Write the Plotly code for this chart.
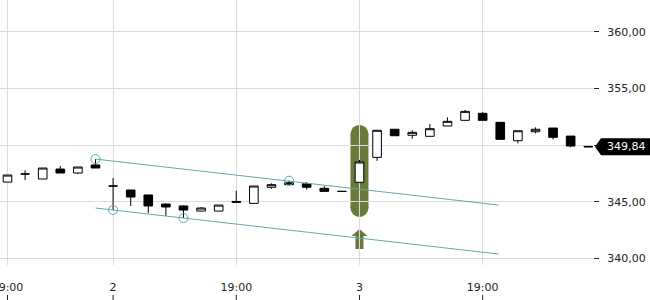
import plotly.graph_objects as go

# ---- data ----
idx = list(range(34))
opens = [346.73, 347.44, 347.00, 347.88, 347.53, 348.24, 346.38, 346.03, 345.59, 344.79,
         344.62, 344.17, 344.17, 345.02, 344.85, 346.27, 346.67, 346.58, 346.18, 345.92,
         346.71, 348.91, 351.39, 350.86, 350.77, 351.68, 352.18, 352.80, 352.00, 350.38,
         351.17, 351.50, 350.79, 349.88]
highs = [347.35, 347.77, 347.97, 348.15, 348.06, 348.76, 347.09, 346.03, 345.59, 344.85,
         344.68, 344.53, 344.70, 345.97, 346.38, 346.62, 346.85, 346.73, 346.38, 345.92,
         348.68, 351.30, 351.39, 351.30, 351.85, 352.44, 353.09, 352.91, 352.00, 351.26,
         351.56, 351.50, 350.79, 349.88]
lows = [346.73, 346.90, 347.00, 347.53, 347.44, 347.97, 344.26, 344.62, 344.00, 343.73,
        343.56, 344.17, 344.17, 344.95, 344.85, 346.14, 346.50, 346.06, 345.91, 345.90,
        346.71, 348.60, 350.82, 350.56, 350.77, 351.68, 352.18, 352.18, 350.50, 350.15,
        351.03, 350.50, 349.80, 349.84]
closes = [347.35, 347.44, 347.97, 347.53, 348.06, 347.97, 346.38, 345.41, 344.62, 344.53,
          344.26, 344.44, 344.70, 344.95, 346.38, 346.50, 346.50, 346.27, 345.91, 345.90,
          348.50, 351.30, 350.82, 351.12, 351.44, 352.09, 352.97, 352.18, 350.50, 351.26,
          351.39, 350.68, 349.91, 349.84]
last_price = 349.84

tick_vals = [0, 6, 13, 20, 27]
tick_text = ["19:00", "2", "19:00", "3", "19:00"]
y_ticks = [340, 345, 350, 355, 360]

channel_x = [5, 27.9]
channel_upper = [348.76, 344.70]
channel_lower = [344.44, 340.38]

pivot_x = [5, 6, 10, 16]
pivot_y = [348.76, 344.26, 343.56, 346.85]

signal_idx = 20
signal_top = 350.98
signal_bottom = 344.44

TEAL = "#62a8ac"
OLIVE = "#6a7a3a"
GRID = "#dcdcdc"
TXT = "#222222"
FONT = "DejaVu Sans"

fig = go.Figure()

fig.add_trace(go.Candlestick(
    x=idx, open=opens, high=highs, low=lows, close=closes,
    increasing=dict(line=dict(color="black", width=1), fillcolor="white"),
    decreasing=dict(line=dict(color="black", width=1), fillcolor="black"),
    whiskerwidth=0, showlegend=False, hoverinfo="skip"))

fig.add_trace(go.Scatter(x=channel_x, y=channel_upper, mode="lines",
                         line=dict(color=TEAL, width=1), showlegend=False, hoverinfo="skip"))
fig.add_trace(go.Scatter(x=channel_x, y=channel_lower, mode="lines",
                         line=dict(color=TEAL, width=1), showlegend=False, hoverinfo="skip"))
fig.add_trace(go.Scatter(x=pivot_x, y=pivot_y, mode="markers",
                         marker=dict(symbol="circle-open", size=9, color=TEAL, line=dict(width=1)),
                         showlegend=False, hoverinfo="skip"))

shapes = []
# signal highlight pill
shapes.append(dict(type="rect", xref="x", yref="y", xsizemode="pixel", xanchor=signal_idx,
                   x0=-9, x1=9, y0=signal_bottom, y1=signal_top,
                   fillcolor=OLIVE, line=dict(width=0), layer="below"))
for yc in (signal_top, signal_bottom):
    shapes.append(dict(type="circle", xref="x", yref="y", xsizemode="pixel", ysizemode="pixel",
                       xanchor=signal_idx, yanchor=yc, x0=-9, x1=9, y0=-9, y1=9,
                       fillcolor=OLIVE, line=dict(width=0), layer="below"))
# up arrow
shapes.append(dict(type="path", xref="x", yref="paper", xsizemode="pixel", ysizemode="pixel",
                   xanchor=signal_idx, yanchor=0,
                   path="M -4 16 L -4 29 L -8 29 L 0 36 L 8 29 L 4 29 L 4 16 Z",
                   fillcolor=OLIVE, line=dict(width=0), layer="below"))
# x tick marks beneath labels
for tv in tick_vals:
    shapes.append(dict(type="line", xref="x", yref="paper", x0=tv, x1=tv,
                       y0=-0.113, y1=-0.135, line=dict(color=TXT, width=1)))
# last price tag
shapes.append(dict(type="path", xref="paper", yref="y", xsizemode="pixel", ysizemode="pixel",
                   xanchor=1, yanchor=last_price,
                   path="M 2 0 L 8 8.5 L 60 8.5 L 60 -8.5 L 8 -8.5 Z",
                   fillcolor="black", line=dict(width=0)))
fig.update_layout(shapes=shapes)

fig.add_annotation(xref="paper", yref="y", x=1, y=last_price, xanchor="left", yanchor="middle",
                   xshift=12, text="349,84", showarrow=False,
                   font=dict(family=FONT, size=11, color="white"))

fig.update_layout(
    width=650, height=300,
    margin=dict(l=0, r=57, t=0, b=35, autoexpand=False),
    paper_bgcolor="white", plot_bgcolor="white",
    separators=",.",
    font=dict(family=FONT, size=11, color=TXT),
    xaxis=dict(range=[-0.426, 33.27], tickmode="array", tickvals=tick_vals, ticktext=tick_text,
               showgrid=True, gridcolor=GRID, gridwidth=1, zeroline=False, showline=False,
               ticks="", ticklabelstandoff=14, ticklabeloverflow="allow", automargin=False,
               rangeslider=dict(visible=False), fixedrange=True),
    yaxis=dict(side="right", range=[339.41, 362.80], tickmode="array", tickvals=y_ticks,
               tickformat=".2f", showgrid=True, gridcolor=GRID, gridwidth=1, zeroline=False,
               showline=False, ticks="outside", ticklen=5, tickcolor=TXT, ticklabelstandoff=6,
               automargin=False, fixedrange=True),
)

fig.write_html("out.html")
